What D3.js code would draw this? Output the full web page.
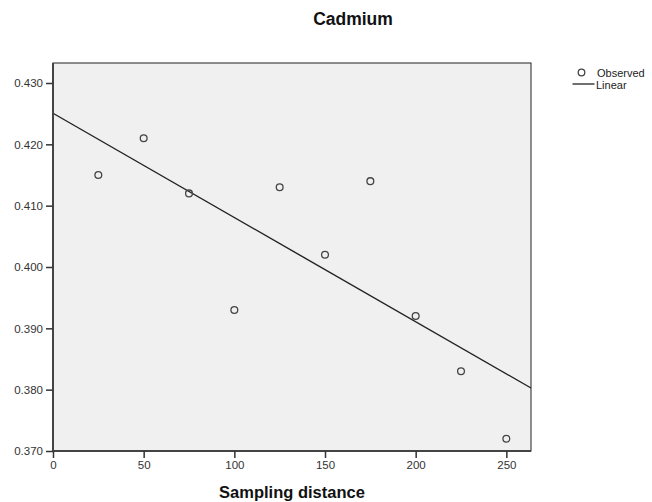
<!DOCTYPE html>
<html><head><meta charset="utf-8">
<script src="https://cdn.jsdelivr.net/npm/d3@7"></script>
<style>body{margin:0;background:#fff;}svg{display:block;font-family:"Liberation Sans",Arial,sans-serif;}</style>
</head><body>
<script>
const distances = [25, 50, 75, 100, 125, 150, 175, 200, 225, 250];
const cadmium = [0.415, 0.421, 0.412, 0.393, 0.413, 0.402, 0.414, 0.392, 0.383, 0.372];
const xTicks = [0, 50, 100, 150, 200, 250];
const yTicks = [0.370, 0.380, 0.390, 0.400, 0.410, 0.420, 0.430];
const legendLabels = ["Observed", "Linear"];

const W = 652, H = 502;
const m = {left: 53, top: 63, right: 531, bottom: 451};
const svg = d3.select("body").append("svg").attr("width", W).attr("height", H);

const x = d3.scaleLinear().domain([0, 263.6]).range([m.left, m.right]);
const y = d3.scaleLinear().domain([0.370, 0.43326]).range([m.bottom, m.top]);

svg.append("rect").attr("x", m.left).attr("y", m.top)
  .attr("width", m.right - m.left).attr("height", m.bottom - m.top)
  .attr("fill", "#f0f0f0").attr("stroke", "#222").attr("stroke-width", 1);

// regression line fitted to the observed data
const mx = d3.mean(distances), my = d3.mean(cadmium);
let sxy = 0, sxx = 0;
distances.forEach((d, i) => { sxy += (d - mx) * (cadmium[i] - my); sxx += (d - mx) ** 2; });
const slope = sxy / sxx, icpt = my - slope * mx;
const [x0, x1] = x.domain();
svg.append("line")
  .attr("x1", x(x0)).attr("y1", y(icpt + slope * x0))
  .attr("x2", x(x1)).attr("y2", y(icpt + slope * x1))
  .attr("stroke", "#222").attr("stroke-width", 1.4);

svg.append("g").selectAll("circle").data(distances).join("circle")
  .attr("cx", d => x(d)).attr("cy", (d, i) => y(cadmium[i])).attr("r", 3.4)
  .attr("fill", "none").attr("stroke", "#444").attr("stroke-width", 1.3);

const yAxis = svg.append("g").attr("transform", `translate(${m.left},0)`)
  .call(d3.axisLeft(y).tickValues(yTicks).tickFormat(d3.format(".3f")).tickSize(7).tickPadding(3));
const xAxis = svg.append("g").attr("transform", `translate(0,${m.bottom})`)
  .call(d3.axisBottom(x).tickValues(xTicks).tickSize(7).tickPadding(3));
[yAxis, xAxis].forEach(a => {
  a.select(".domain").attr("stroke", "#444").attr("stroke-width", 2);
  a.selectAll(".tick line").attr("stroke", "#333").attr("stroke-width", 1.5);
  a.selectAll(".tick text").attr("fill", "#333").style("font-size", "11.5px")
    .style("font-family", '"Liberation Sans",Arial,sans-serif');
});
yAxis.select(".domain").attr("d", `M0,${m.top}V${m.bottom}`);
xAxis.select(".domain").attr("d", `M${m.left},0H${m.right}`);

svg.append("text").attr("x", 353).attr("y", 25).attr("text-anchor", "middle")
  .style("font-size", "17.5px").style("font-weight", "bold").attr("fill", "#111").text("Cadmium");
svg.append("text").attr("x", (m.left + m.right) / 2).attr("y", 498).attr("text-anchor", "middle")
  .style("font-size", "16.5px").style("font-weight", "bold").attr("fill", "#111").text("Sampling distance");

const lg = svg.append("g");
lg.append("circle").attr("cx", 581.5).attr("cy", 72.5).attr("r", 3.3)
  .attr("fill", "none").attr("stroke", "#444").attr("stroke-width", 1.3);
lg.append("text").attr("x", 597).attr("y", 76.5).style("font-size", "11px").attr("fill", "#222").text(legendLabels[0]);
lg.append("line").attr("x1", 572.5).attr("x2", 594.5).attr("y1", 84).attr("y2", 84).attr("stroke", "#222").attr("stroke-width", 1.3);
lg.append("text").attr("x", 596).attr("y", 88.5).style("font-size", "11px").attr("fill", "#222").text(legendLabels[1]);
</script>
</body></html>
